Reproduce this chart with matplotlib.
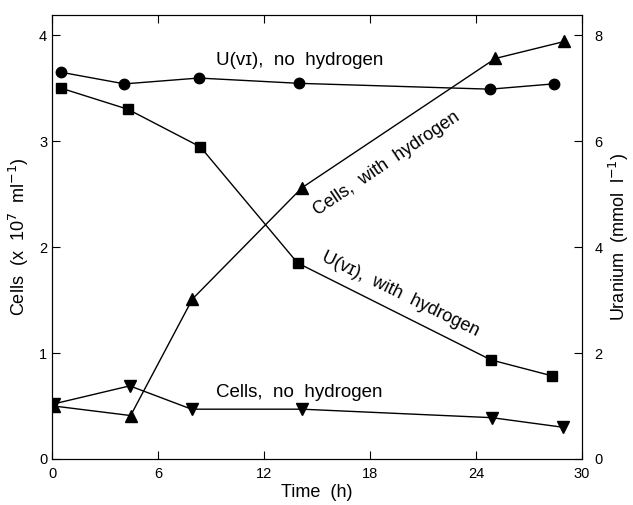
import matplotlib
matplotlib.use('Agg')
import matplotlib.pyplot as plt

plt.rcParams['font.family'] = ['Liberation Sans', 'DejaVu Sans']

# U(VI), no hydrogen (right axis, mmol/l)
t_u_noh = [0.5, 4.1, 8.3, 14.0, 24.8, 28.4]
u_noh = [7.30, 7.08, 7.19, 7.09, 6.98, 7.08]

# U(VI), with hydrogen (right axis)
t_u_h = [0.5, 4.3, 8.4, 13.9, 24.85, 28.3]
u_h = [7.00, 6.60, 5.89, 3.70, 1.87, 1.57]

# Cells, with hydrogen (left axis, x10^7/ml)
t_c_h = [0.1, 4.45, 7.95, 14.15, 25.1, 29.0]
c_h = [0.50, 0.41, 1.51, 2.56, 3.78, 3.94]

# Cells, no hydrogen (left axis)
t_c_noh = [0.1, 4.4, 7.9, 14.15, 24.9, 28.9]
c_noh = [0.52, 0.69, 0.47, 0.47, 0.39, 0.30]

fig = plt.figure(figsize=(6.33, 5.05), dpi=100)
ax = fig.add_axes([0.0822, 0.0911, 0.8372, 0.8792])
ax2 = ax.twinx()

ax.plot(t_c_h, c_h, 'k-', marker='^', markersize=8, linewidth=1)
ax.plot(t_c_noh, c_noh, 'k-', marker='v', markersize=8, linewidth=1)
ax2.plot(t_u_noh, u_noh, 'k-', marker='o', markersize=7.5, linewidth=1)
ax2.plot(t_u_h, u_h, 'k-', marker='s', markersize=7.5, linewidth=1)

ax.set_xlim(0, 30)
ax.set_ylim(0, 4.19)
ax2.set_ylim(0, 8.38)
ax.set_xticks([0, 6, 12, 18, 24, 30])
ax.set_yticks([0, 1, 2, 3, 4])
ax2.set_yticks([0, 2, 4, 6, 8])

ax.tick_params(axis='both', direction='in', length=6, labelsize=10.5, top=True)
ax.tick_params(axis='x', pad=6)
ax2.tick_params(axis='y', direction='in', length=6, labelsize=10.5, pad=9)

ax.set_xlabel('Time  (h)', fontsize=13, labelpad=2)
ax.set_ylabel('Cells  (x  10$^7$  ml$^{-1}$)', fontsize=13, labelpad=6)
ax2.set_ylabel('Uranium  (mmol  l$^{-1}$)', fontsize=13, labelpad=3)

ax.text(9.3, 3.72, 'U(ᴠɪ),  no  hydrogen', fontsize=13.5)
ax.text(18.96, 2.79, 'Cells,  with  hydrogen', fontsize=13,
        rotation=34, ha='center', va='center')
ax.text(19.7, 1.55, 'U(ᴠɪ),  with  hydrogen', fontsize=13,
        rotation=-26, ha='center', va='center')
ax.text(9.3, 0.585, 'Cells,  no  hydrogen', fontsize=13.5)

fig.savefig('out.png', dpi=100)
